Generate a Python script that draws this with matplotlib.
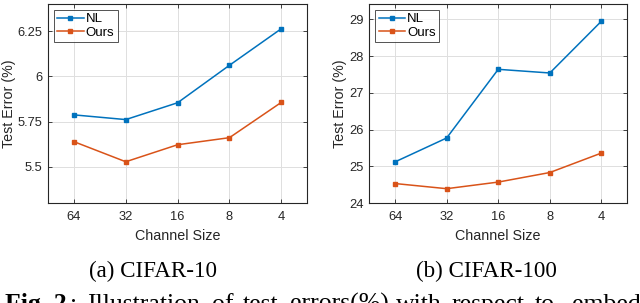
""" test error vs channel size, CIFAR-10 and CIFAR-100 """

import matplotlib
matplotlib.use("Agg")
from matplotlib import pyplot as plt

channel_sizes = ["64", "32", "16", "8", "4"]

# CIFAR-10
nl_c10 = [5.787, 5.761, 5.854, 6.061, 6.263]
ours_c10 = [5.639, 5.528, 5.622, 5.661, 5.856]

# CIFAR-100
nl_c100 = [25.12, 25.77, 27.64, 27.54, 28.95]
ours_c100 = [24.53, 24.39, 24.57, 24.83, 25.36]

blue = "#0072BD"
orange = "#D95319"
dark = "#262626"

plt.rcParams["font.family"] = ["Liberation Sans", "DejaVu Sans"]

fig = plt.figure(figsize=(6.4, 3.03), dpi=100)


def draw_panel(ax, nl, ours, ylim, yticks, yticklabels, ylabel_x):
    """ one panel, styled like a matlab figure """
    x = range(1, len(channel_sizes) + 1)
    ax.plot(x, nl, color=blue, marker="s", markersize=3.5, linewidth=1.1, label="NL")
    ax.plot(x, ours, color=orange, marker="s", markersize=3.5, linewidth=1.1, label="Ours")
    ax.set_xlim(0.5, 5.5)
    ax.set_ylim(*ylim)
    ax.set_xticks(list(x))
    ax.set_xticklabels(channel_sizes)
    ax.set_yticks(yticks)
    ax.set_yticklabels(yticklabels)
    ax.grid(True, color="#dfdfdf", linewidth=0.7)
    ax.set_axisbelow(True)
    for s in ax.spines.values():
        s.set_color(dark)
        s.set_linewidth(0.8)
    ax.tick_params(colors=dark, labelsize=9.3, direction="in", length=3, width=0.6,
                   top=True, right=True)
    ax.tick_params(axis="y", pad=4)
    ax.tick_params(axis="x", pad=6)
    ax.set_xlabel("Channel Size", fontsize=10.3, color=dark, labelpad=4)
    ax.set_ylabel("Test Error (%)", fontsize=10.3, color=dark)
    ax.yaxis.set_label_coords(ylabel_x, 0.5)
    leg = ax.legend(loc="upper left", fontsize=9.5, frameon=True, fancybox=False,
                    handlelength=2.0, handletextpad=0.15, borderpad=0.25,
                    labelspacing=0.1, borderaxespad=0.45)
    leg.get_frame().set_edgecolor(dark)
    leg.get_frame().set_linewidth(0.7)


ax1 = fig.add_axes([0.075, 0.330, 0.405, 0.657])
draw_panel(ax1, nl_c10, ours_c10, (5.3, 6.4), [5.5, 5.75, 6, 6.25],
           ["5.5", "5.75", "6", "6.25"], -0.122)

ax2 = fig.add_axes([0.577, 0.330, 0.403, 0.657])
draw_panel(ax2, nl_c100, ours_c100, (24, 29.42), [24, 25, 26, 27, 28, 29],
           ["24", "25", "26", "27", "28", "29"], -0.088)

# captions below the panels
serif = ["Liberation Serif", "DejaVu Serif"]
fig.text(0.239, 0.086, "(a) CIFAR-10", family=serif, fontsize=16.6, ha="center", va="baseline")
fig.text(0.760, 0.086, "(b) CIFAR-100", family=serif, fontsize=16.6, ha="center", va="baseline")

# justified caption line, cut by the bottom of the picture as in the source
caption_words = [("Fig. 2", 0.008, "bold"), (":", 0.110, "normal"),
                 ("Illustration", 0.136, "normal"), ("of", 0.332, "normal"),
                 ("test", 0.380, "normal"), ("errors(%)", 0.453, "normal"),
                 ("with", 0.619, "normal"), ("respect", 0.706, "normal"),
                 ("to", 0.836, "normal"), ("embed", 0.894, "normal")]
for word, xpos, weight in caption_words:
    fig.text(xpos, -0.025, word, family=serif, fontsize=18.5, fontweight=weight,
             ha="left", va="baseline")

fig.savefig("out.png", dpi=100)
